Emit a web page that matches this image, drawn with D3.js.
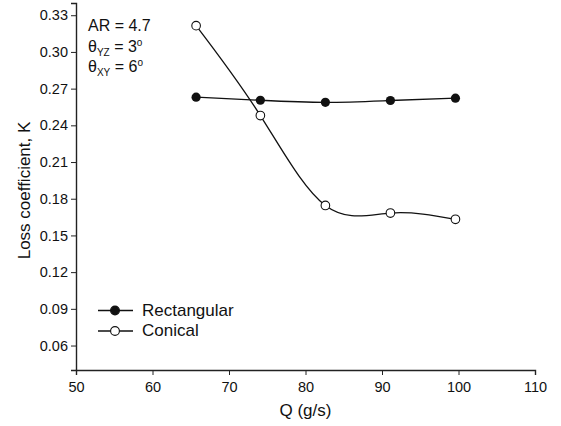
<!DOCTYPE html>
<html>
<head>
<meta charset="utf-8">
<script src="https://d3js.org/d3.v7.min.js"></script>
<style>
  body { margin: 0; background: #fff; }
  svg { font-family: "Liberation Sans", Arial, sans-serif; }
</style>
</head>
<body>
<div id="chart"></div>
<script>
// data
var flowRates = [65.7, 74.1, 82.6, 91.1, 99.6];
var rectangular = [0.263, 0.2605, 0.2588, 0.2603, 0.2622];
var conical = [0.3215, 0.248, 0.1745, 0.1683, 0.1632];
var xTicks = [50, 60, 70, 80, 90, 100, 110];
var yTicks = [0.06, 0.09, 0.12, 0.15, 0.18, 0.21, 0.24, 0.27, 0.30, 0.33];

var W = 561, H = 426;
var margin = { top: 3, right: 26, bottom: 56, left: 76 },
  width = W - margin.left - margin.right,
  height = H - margin.top - margin.bottom;

var svg = d3.select("#chart").append("svg")
  .attr("width", W).attr("height", H);
var g = svg.append("g")
  .attr("transform", "translate(" + margin.left + "," + margin.top + ")");

var x = d3.scaleLinear().domain([50, 110]).range([0, width]);
var y = d3.scaleLinear().domain([0.04, 0.34]).range([height, 0]);

// axes
var xAxis = g.append("g")
  .attr("transform", "translate(0," + height + ")")
  .call(d3.axisBottom(x).tickValues(xTicks).tickSize(5).tickPadding(7).tickFormat(d3.format("d")));
var yAxis = g.append("g")
  .call(d3.axisLeft(y).tickValues(yTicks).tickSize(5).tickPadding(3).tickFormat(d3.format(".2f")));

[xAxis, yAxis].forEach(function (a) {
  a.select(".domain").attr("stroke", "#222").attr("stroke-width", 1.4);
  a.selectAll(".tick line").attr("stroke", "#222").attr("stroke-width", 1);
  a.selectAll("text").attr("fill", "#111").style("font-size", "14.5px");
});

// series
var line = d3.line()
  .x(function (d) { return x(d[0]); })
  .y(function (d) { return y(d[1]); })
  .curve(d3.curveNatural);

var rectPts = flowRates.map(function (q, i) { return [q, rectangular[i]]; });
var conPts = flowRates.map(function (q, i) { return [q, conical[i]]; });

g.append("path").datum(rectPts)
  .attr("fill", "none").attr("stroke", "#111").attr("stroke-width", 1.3)
  .attr("d", line);
g.append("path").datum(conPts)
  .attr("fill", "none").attr("stroke", "#111").attr("stroke-width", 1.3)
  .attr("d", line);

g.selectAll(".rect-pt").data(rectPts).enter().append("circle")
  .attr("class", "rect-pt")
  .attr("cx", function (d) { return x(d[0]); })
  .attr("cy", function (d) { return y(d[1]); })
  .attr("r", 4.6).attr("fill", "#111");

g.selectAll(".con-pt").data(conPts).enter().append("circle")
  .attr("class", "con-pt")
  .attr("cx", function (d) { return x(d[0]); })
  .attr("cy", function (d) { return y(d[1]); })
  .attr("r", 4.3).attr("fill", "#fff").attr("stroke", "#111").attr("stroke-width", 1.1);

// legend
var legend = svg.append("g");
var items = [["Rectangular", "#111"], ["Conical", "#fff"]];
items.forEach(function (it, i) {
  var ly = 310.5 + i * 20.5;
  legend.append("line").attr("x1", 98).attr("x2", 133).attr("y1", ly).attr("y2", ly)
    .attr("stroke", "#111").attr("stroke-width", 1.3);
  legend.append("circle").attr("cx", 115).attr("cy", ly).attr("r", 4.4)
    .attr("fill", it[1]).attr("stroke", "#111").attr("stroke-width", 1.1);
  legend.append("text").attr("x", 142).attr("y", ly + 5)
    .style("font-size", "17px").attr("fill", "#111").text(it[0]);
});

// annotation
var ann = svg.append("g").style("font-size", "16px").attr("fill", "#111");
ann.append("text").attr("x", 88).attr("y", 31).text("AR = 4.7");
var t1 = ann.append("text").attr("x", 88).attr("y", 52);
t1.append("tspan").text("θ");
t1.append("tspan").attr("dy", 4).style("font-size", "10px").text("YZ");
t1.append("tspan").attr("dy", -4).text(" = 3");
t1.append("tspan").attr("dy", -6).style("font-size", "10px").text("o");
var t2 = ann.append("text").attr("x", 88).attr("y", 72);
t2.append("tspan").text("θ");
t2.append("tspan").attr("dy", 4).style("font-size", "10px").text("XY");
t2.append("tspan").attr("dy", -4).text(" = 6");
t2.append("tspan").attr("dy", -6).style("font-size", "10px").text("o");

// axis titles
svg.append("text")
  .attr("x", margin.left + width / 2).attr("y", 416)
  .attr("text-anchor", "middle").style("font-size", "17px").attr("fill", "#111")
  .text("Q (g/s)");
svg.append("text")
  .attr("transform", "translate(30," + (margin.top + height / 2 + 4) + ") rotate(-90)")
  .attr("text-anchor", "middle").style("font-size", "17px").attr("fill", "#111")
  .text("Loss coefficient, K");
</script>
</body>
</html>
